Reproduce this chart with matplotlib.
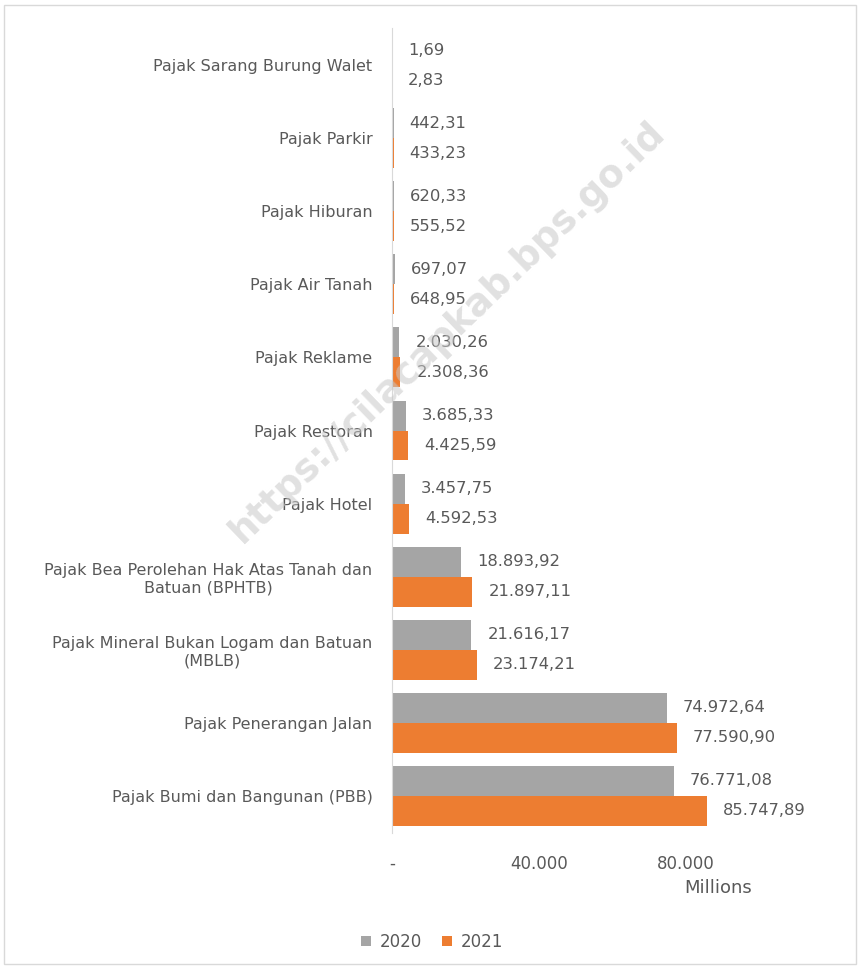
import matplotlib.pyplot as plt
from matplotlib.patches import Rectangle
import numpy as np

# Data (Millions of Rupiah)
kategori = [
    'Pajak Sarang Burung Walet',
    'Pajak Parkir',
    'Pajak Hiburan',
    'Pajak Air Tanah',
    'Pajak Reklame',
    'Pajak Restoran',
    'Pajak Hotel',
    'Pajak Bea Perolehan Hak Atas Tanah dan\nBatuan (BPHTB)',
    'Pajak Mineral Bukan Logam dan Batuan\n(MBLB)',
    'Pajak Penerangan Jalan',
    'Pajak Bumi dan Bangunan (PBB)',
]
nilai_2020 = [1.69, 442.31, 620.33, 697.07, 2030.26, 3685.33, 3457.75,
              18893.92, 21616.17, 74972.64, 76771.08]
nilai_2021 = [2.83, 433.23, 555.52, 648.95, 2308.36, 4425.59, 4592.53,
              21897.11, 23174.21, 77590.90, 85747.89]
tahun = ['2020', '2021']
xticks = [0, 40000, 80000]
xtick_labels = ['-', '40.000', '80.000']

ABU = '#A5A5A5'
ORANYE = '#ED7D31'
TEKS = '#595959'


def format_id(v):
    # format angka Indonesia: titik ribuan, koma desimal
    s = f'{v:,.2f}'
    return s.replace(',', 'X').replace('.', ',').replace('X', '.')


fig = plt.figure(figsize=(8.6, 9.68), dpi=100)
ax = fig.add_axes([392 / 860, 1 - 832.5 / 968, (759 - 392) / 860, (832.5 - 28.5) / 968])

y = np.arange(len(kategori))
h = 0.41
b1 = ax.barh(y - h / 2, nilai_2020, height=h, color=ABU, label=tahun[0])
b2 = ax.barh(y + h / 2, nilai_2021, height=h, color=ORANYE, label=tahun[1])

for bars, vals in [(b1, nilai_2020), (b2, nilai_2021)]:
    for bar, v in zip(bars, vals):
        ax.annotate(format_id(v), (bar.get_width(), bar.get_y() + bar.get_height() / 2),
                    xytext=(11.5, 0), textcoords='offset points',
                    ha='left', va='center', fontsize=11.8, color=TEKS)

ax.set_ylim(len(kategori) - 0.5, -0.5)
ax.set_xlim(0, 100000)
ax.set_yticks(y)
ax.set_yticklabels(kategori, fontsize=11.5, color=TEKS, multialignment='center')
ax.set_xticks(xticks)
ax.set_xticklabels(xtick_labels, fontsize=12, color=TEKS)
ax.tick_params(axis='both', length=0)
ax.tick_params(axis='x', pad=16)
ax.tick_params(axis='y', pad=14)

for s in ['top', 'right', 'bottom']:
    ax.spines[s].set_visible(False)
ax.spines['left'].set_color('#D9D9D9')

fig.text(718 / 860, 1 - 888 / 968, 'Millions', ha='center', va='center',
         fontsize=13, color=TEKS)

fig.legend(handles=[b1, b2], labels=tahun, loc='center', bbox_to_anchor=(432 / 860, 1 - 942 / 968),
           ncol=2, frameon=False, fontsize=12, labelcolor=TEKS,
           handlelength=0.6, handleheight=0.6, handletextpad=0.5, columnspacing=1.2)

# watermark
fig.text(448 / 860, 1 - 332 / 968, 'https://cilacapkab.bps.go.id', ha='center', va='center',
         rotation=44, fontsize=27, fontweight='bold', color='#C8C8C8', alpha=0.55, zorder=10)

# border
fig.patches.append(Rectangle((4 / 860, 4 / 968), 852 / 860, 959 / 968, transform=fig.transFigure,
                             fill=False, edgecolor='#D9D9D9', linewidth=1))

fig.savefig('out.png', dpi=100)
